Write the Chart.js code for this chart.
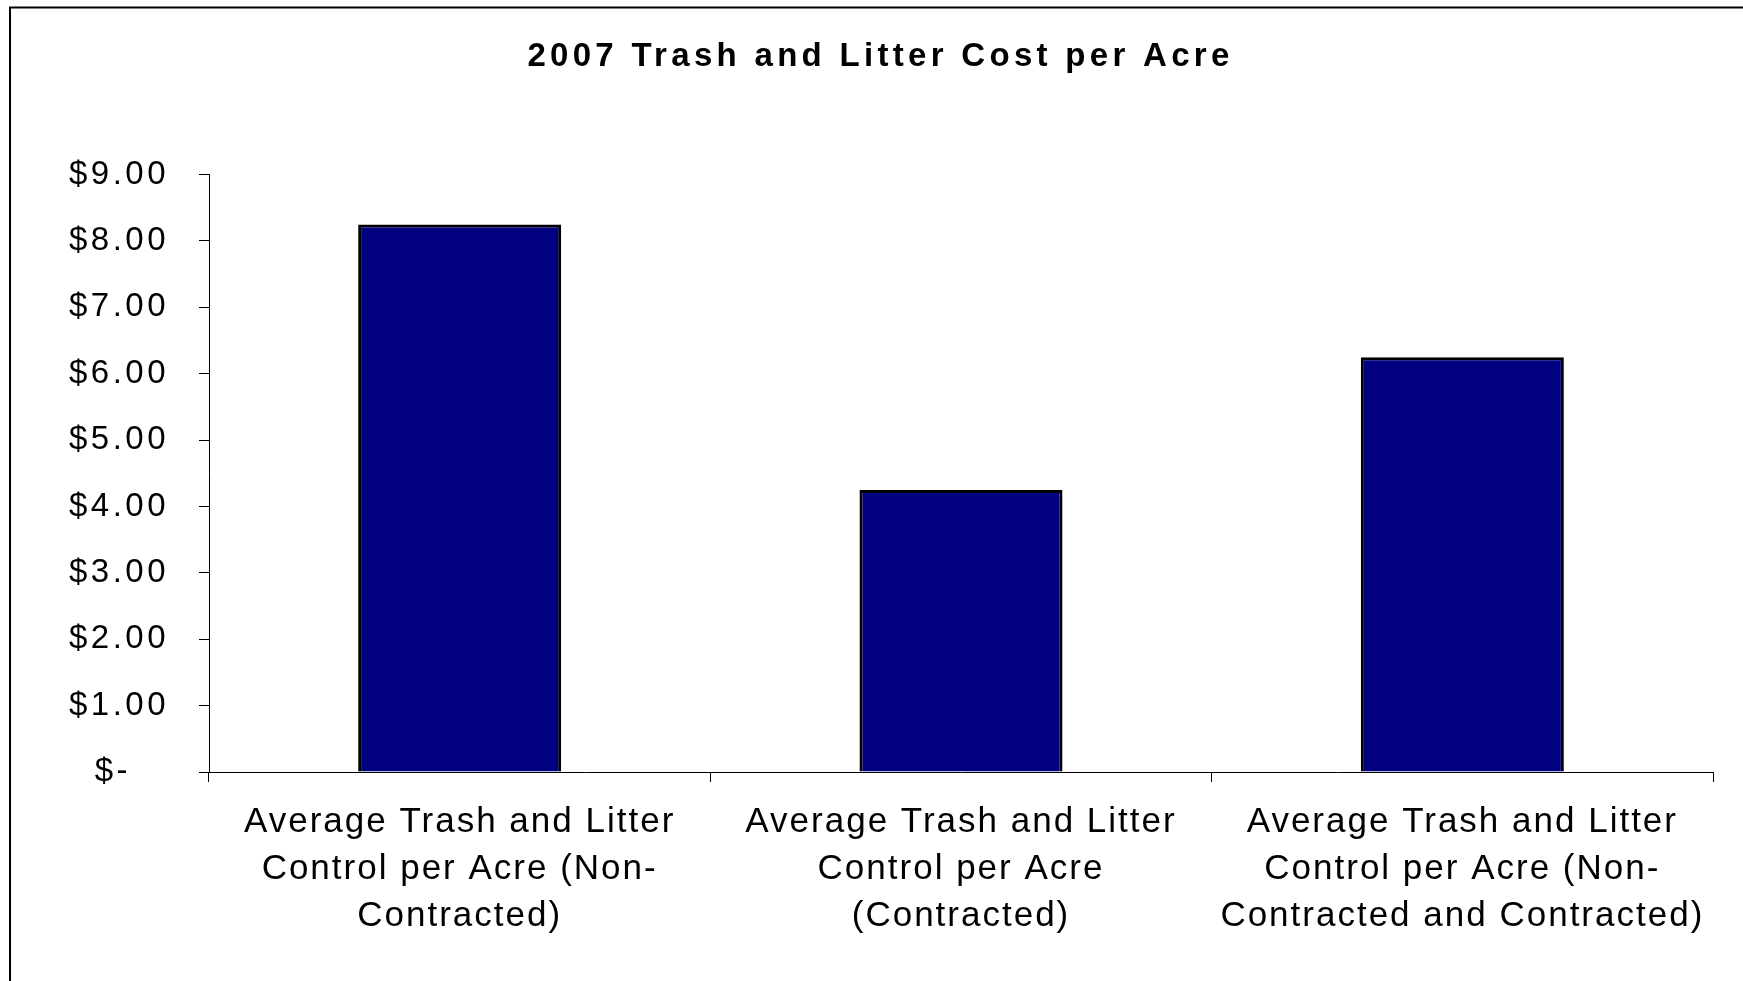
<!DOCTYPE html>
<html>
<head>
<meta charset="utf-8">
<script src="https://cdn.jsdelivr.net/npm/chart.js@4/dist/chart.umd.min.js"></script>
<style>
  html, body { margin: 0; padding: 0; background: #fff; }
  canvas { display: block; }
</style>
</head>
<body>
<canvas id="grafico" width="1743" height="981"></canvas>
<script>
// Datos del gráfico
const categorias = [
  ["Average Trash and Litter", "Control per Acre (Non-", "Contracted)"],
  ["Average Trash and Litter", "Control per Acre", "(Contracted)"],
  ["Average Trash and Litter", "Control per Acre (Non-", "Contracted and Contracted)"]
];
const costoPorAcre = [8.25, 4.25, 6.25];
const etiquetasEjeY = ["$-   ", "$1.00", "$2.00", "$3.00", "$4.00", "$5.00", "$6.00", "$7.00", "$8.00", "$9.00"];
const titulo = "2007 Trash and Litter Cost per Acre";

const azulMarino = "#000080";
const fuente = "'Liberation Sans', Arial, sans-serif";

// Espaciado entre letras (el original viene de Excel, con texto algo estirado)
const espaciado = { title: "4.3px", x: "2px", y: "3.5px" };

const dibujarEtiquetas = Chart.Scale.prototype.drawLabels;
Chart.Scale.prototype.drawLabels = function (area) {
  const ctx = this.ctx;
  const antes = ctx.letterSpacing;
  ctx.letterSpacing = espaciado[this.id] || "0px";
  dibujarEtiquetas.call(this, area);
  ctx.letterSpacing = antes;
};

// Fondo blanco, marco y espaciado del título
const marco = {
  id: "marco",
  beforeDraw(chart) {
    const ctx = chart.ctx;
    ctx.save();
    ctx.fillStyle = "#fff";
    ctx.fillRect(0, 0, chart.width, chart.height);
    ctx.strokeStyle = "#000";
    ctx.lineWidth = 2;
    ctx.beginPath();
    ctx.moveTo(10, chart.height + 5);
    ctx.lineTo(10, 7.5);
    ctx.lineTo(chart.width + 5, 7.5);
    ctx.stroke();
    ctx.restore();
    ctx.letterSpacing = espaciado.title;
  },
  afterDraw(chart) {
    chart.ctx.letterSpacing = "0px";
  }
};

new Chart(document.getElementById("grafico"), {
  type: "bar",
  data: {
    labels: categorias,
    datasets: [{
      label: "Cost per Acre",
      data: costoPorAcre,
      backgroundColor: azulMarino,
      borderColor: "#000",
      borderWidth: 3,
      categoryPercentage: 1,
      barPercentage: 0.405
    }]
  },
  options: {
    responsive: false,
    animation: false,
    layout: { padding: { left: 48, right: 30, top: 0, bottom: 0 } },
    plugins: {
      legend: { display: false },
      tooltip: { enabled: false },
      title: {
        display: true,
        text: titulo,
        color: "#000",
        font: { family: fuente, size: 33, weight: "bold", lineHeight: 1.2 },
        padding: { top: 37, bottom: 98 }
      }
    },
    scales: {
      x: {
        grid: { drawOnChartArea: false, drawTicks: true, tickLength: 10, color: "#000", offset: true },
        border: { display: true, color: "#000", width: 1 },
        ticks: {
          color: "#000",
          padding: 17,
          maxRotation: 0,
          autoSkip: false,
          font: { family: fuente, size: 35, lineHeight: 47 / 35 }
        },
        afterFit(escala) { escala.height = 209; }
      },
      y: {
        min: 0,
        max: 9,
        grid: { drawOnChartArea: false, drawTicks: true, tickLength: 10, color: "#000" },
        border: { display: true, color: "#000", width: 1 },
        ticks: {
          stepSize: 1,
          color: "#000",
          padding: 30,
          font: { family: fuente, size: 33 },
          callback: (valor, i) => etiquetasEjeY[i]
        },
        afterFit(escala) { escala.width = 161; }
      }
    }
  },
  plugins: [marco]
});
</script>
</body>
</html>
